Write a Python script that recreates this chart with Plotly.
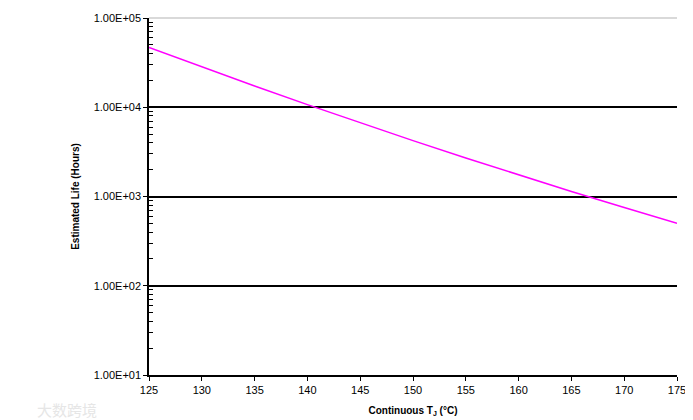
import plotly.graph_objects as go

# Continuous junction temperature (°C)
temps = [125, 130, 135, 140, 145, 150, 155, 160, 165, 170, 175]
# Estimated life (hours)
life_hours = [46700, 28200, 17300, 10700, 6680, 4230, 2700, 1750, 1140, 753, 501]

y_tick_vals = [10, 100, 1000, 10000, 100000]
y_tick_text = ["1.00E+01", "1.00E+02", "1.00E+03", "1.00E+04", "1.00E+05"]
x_tick_vals = [125, 130, 135, 140, 145, 150, 155, 160, 165, 170, 175]

font_family = "Liberation Sans, Arial, sans-serif"

fig = go.Figure()
fig.add_trace(go.Scatter(
    x=temps, y=life_hours, mode="lines",
    line=dict(color="#FF00FF", width=1.5),
    showlegend=False, hoverinfo="x+y",
))

fig.update_layout(
    width=685, height=412,
    margin=dict(l=141, r=16, t=10, b=45),
    paper_bgcolor="white", plot_bgcolor="white",
    font=dict(family=font_family, size=11, color="black"),
    xaxis=dict(
        range=[125, 175], tickvals=x_tick_vals, automargin=False,
        showgrid=False, zeroline=False,
        showline=True, linecolor="black", linewidth=1.5,
        ticks="outside", ticklen=4, tickcolor="black", tickwidth=1,
        tickfont=dict(size=11),
        title=dict(text="<b>Continuous T<sub>J</sub> (°C)</b>", font=dict(size=10), standoff=12),
    ),
    yaxis=dict(
        type="log", range=[1, 5], automargin=False,
        tickvals=y_tick_vals, ticktext=y_tick_text,
        showgrid=True, gridcolor="black", gridwidth=1.5,
        zeroline=False,
        showline=True, linecolor="black", linewidth=1.5,
        ticks="outside", ticklen=4, tickcolor="black", tickwidth=1,
        tickfont=dict(size=11),
        minor=dict(ticks="inside", ticklen=4, tickcolor="black", tickwidth=1,
                   dtick="D1", showgrid=False),
        title=dict(text="<b>Estimated Life (Hours)</b>", font=dict(size=10), standoff=12),
    ),
    shapes=[dict(type="line", xref="paper", yref="paper", x0=0, x1=1, y0=1, y1=1,
                 line=dict(color="#d9d9d9", width=2), layer="above")],
    annotations=[dict(text="大数跨境", xref="paper", yref="paper", x=-0.216, y=-0.062,
                      xanchor="left", yanchor="top", showarrow=False,
                      font=dict(family="Noto Sans CJK SC", size=15, color="#e6e6e6"))],
)

fig.write_html("out.html")
